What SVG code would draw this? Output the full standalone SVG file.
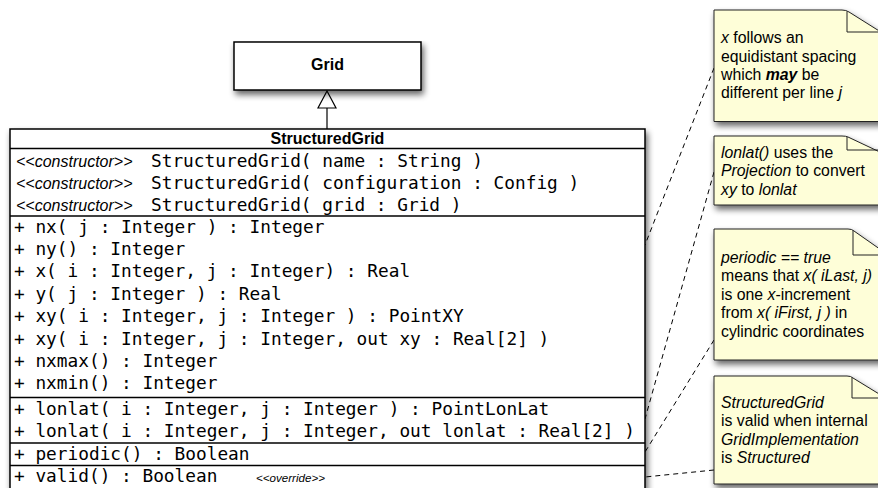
<svg xmlns="http://www.w3.org/2000/svg" width="878" height="488" viewBox="0 0 878 488">
<defs>
<filter id="sh" x="-10%" y="-10%" width="130%" height="140%">
<feGaussianBlur in="SourceAlpha" stdDeviation="3"/>
<feOffset dx="2" dy="4"/>
<feComponentTransfer><feFuncA type="linear" slope="0.6"/></feComponentTransfer>
<feMerge><feMergeNode/><feMergeNode in="SourceGraphic"/></feMerge>
</filter>
</defs>
<style>
.box{fill:#fff;stroke:#000;stroke-width:1.5}
.sep{stroke:#000;stroke-width:1.5}
.note{fill:#FEFED8;stroke:#222;stroke-width:1}
.fold{fill:none;stroke:#222;stroke-width:1}
.title{font-family:"Liberation Sans",Arial,sans-serif;font-weight:bold;font-size:16px;text-anchor:middle}
.mono{font-family:"DejaVu Sans Mono",monospace;font-size:17.8px;white-space:pre}
.st{font-family:"Liberation Sans",Arial,sans-serif;font-style:italic;font-size:16px}
.st2{font-family:"Liberation Sans",Arial,sans-serif;font-style:italic;font-size:11.6px}
.nt{font-family:"Liberation Sans",Arial,sans-serif;font-size:15.8px}
.i{font-style:italic}
.bi{font-style:italic;font-weight:bold}
.dash{fill:none;stroke:#000;stroke-width:1;stroke-dasharray:5,4}
</style>

<g id="connectors">
<line x1="327" y1="108" x2="327" y2="129" stroke="#000" stroke-width="1.2"/>
<polygon points="327,91 318,108 336,108" fill="#fff" stroke="#000" stroke-width="1.2"/>
<line class="dash" x1="714" y1="68" x2="645" y2="245"/>
<line class="dash" x1="714" y1="172" x2="645" y2="419"/>
<line class="dash" x1="714" y1="340" x2="645" y2="452"/>
<line class="dash" x1="714" y1="470" x2="645" y2="477"/>
</g>

<g id="Grid">
<rect class="box" x="234" y="42" width="187" height="48" filter="url(#sh)"/>
<text class="title" x="327.5" y="70">Grid</text>
</g>

<g id="StructuredGrid">
<rect class="box" x="10" y="129" width="635" height="364" filter="url(#sh)"/>
<text class="title" x="327.5" y="144">StructuredGrid</text>
<line class="sep" x1="10" y1="148.5" x2="645" y2="148.5"/>
<text class="st" x="16" y="167">&lt;&lt;constructor&gt;&gt;</text>
<text class="mono" x="151" y="167">StructuredGrid( name : String )</text>
<text class="st" x="16" y="189">&lt;&lt;constructor&gt;&gt;</text>
<text class="mono" x="151" y="189">StructuredGrid( configuration : Config )</text>
<text class="st" x="16" y="210.5">&lt;&lt;constructor&gt;&gt;</text>
<text class="mono" x="151" y="210.5">StructuredGrid( grid : Grid )</text>
<line class="sep" x1="10" y1="216" x2="645" y2="216"/>
<text class="mono" x="14" y="232.5">+ nx( j : Integer ) : Integer</text>
<text class="mono" x="14" y="254.9">+ ny() : Integer</text>
<text class="mono" x="14" y="277.3">+ x( i : Integer, j : Integer) : Real</text>
<text class="mono" x="14" y="299.7">+ y( j : Integer ) : Real</text>
<text class="mono" x="14" y="322.1">+ xy( i : Integer, j : Integer ) : PointXY</text>
<text class="mono" x="14" y="344.5">+ xy( i : Integer, j : Integer, out xy : Real[2] )</text>
<text class="mono" x="14" y="366.9">+ nxmax() : Integer</text>
<text class="mono" x="14" y="389.3">+ nxmin() : Integer</text>
<line class="sep" x1="10" y1="397.5" x2="645" y2="397.5"/>
<text class="mono" x="14" y="414.5">+ lonlat( i : Integer, j : Integer ) : PointLonLat</text>
<text class="mono" x="14" y="436.5">+ lonlat( i : Integer, j : Integer, out lonlat : Real[2] )</text>
<line class="sep" x1="10" y1="443" x2="645" y2="443"/>
<text class="mono" x="14" y="459.5">+ periodic() : Boolean</text>
<line class="sep" x1="10" y1="465.5" x2="645" y2="465.5"/>
<text class="mono" x="14" y="482">+ valid() : Boolean</text>
<text class="st2" x="256" y="482">&lt;&lt;override&gt;&gt;</text>
</g>

<g id="note1">
<path class="note" d="M714,10 H842 Q846,10 849,12 L884,34 V121.5 H714 Z" filter="url(#sh)"/>
<path class="fold" d="M847,11.5 V32 H884"/>
<text class="nt" x="721" y="43.3"><tspan class="i">x</tspan> follows an</text>
<text class="nt" x="721" y="61.7">equidistant spacing</text>
<text class="nt" x="721" y="80">which <tspan class="bi">may</tspan> be</text>
<text class="nt" x="721" y="98.3">different per line <tspan class="i">j</tspan></text>
</g>

<g id="note2">
<path class="note" d="M714,136 H842 Q846,136 848,137 L884,154 V205 H714 Z" filter="url(#sh)"/>
<path class="fold" d="M847,137 V150 H884"/>
<text class="nt" x="721" y="157.5"><tspan class="i">lonlat()</tspan> uses the</text>
<text class="nt" x="721" y="176"><tspan class="i">Projection</tspan> to convert</text>
<text class="nt" x="721" y="194.5"><tspan class="i">xy</tspan> to <tspan class="i">lonlat</tspan></text>
</g>

<g id="note3">
<path class="note" d="M714,229 H848 Q852,229 854,231 L884,252 V360 H714 Z" filter="url(#sh)"/>
<path class="fold" d="M853,230.5 V255 H884"/>
<text class="nt" x="721" y="262.5"><tspan class="i">periodic == true</tspan></text>
<text class="nt" x="721" y="281">means that <tspan class="i">x( iLast, j)</tspan></text>
<text class="nt" x="721" y="299.5">is one <tspan class="i">x</tspan>-increment</text>
<text class="nt" x="721" y="318">from <tspan class="i">x( iFirst, j )</tspan> in</text>
<text class="nt" x="721" y="336.5">cylindric coordinates</text>
</g>

<g id="note4">
<path class="note" d="M714,376 H847 Q851,376 853,378 L884,397 V484 H714 Z" filter="url(#sh)"/>
<path class="fold" d="M852,377.5 V398 H884"/>
<text class="nt" x="721" y="407.5"><tspan class="i">StructuredGrid</tspan></text>
<text class="nt" x="721" y="426">is valid when internal</text>
<text class="nt" x="721" y="444.5"><tspan class="i">GridImplementation</tspan></text>
<text class="nt" x="721" y="463">is <tspan class="i">Structured</tspan></text>
</g>
</svg>
